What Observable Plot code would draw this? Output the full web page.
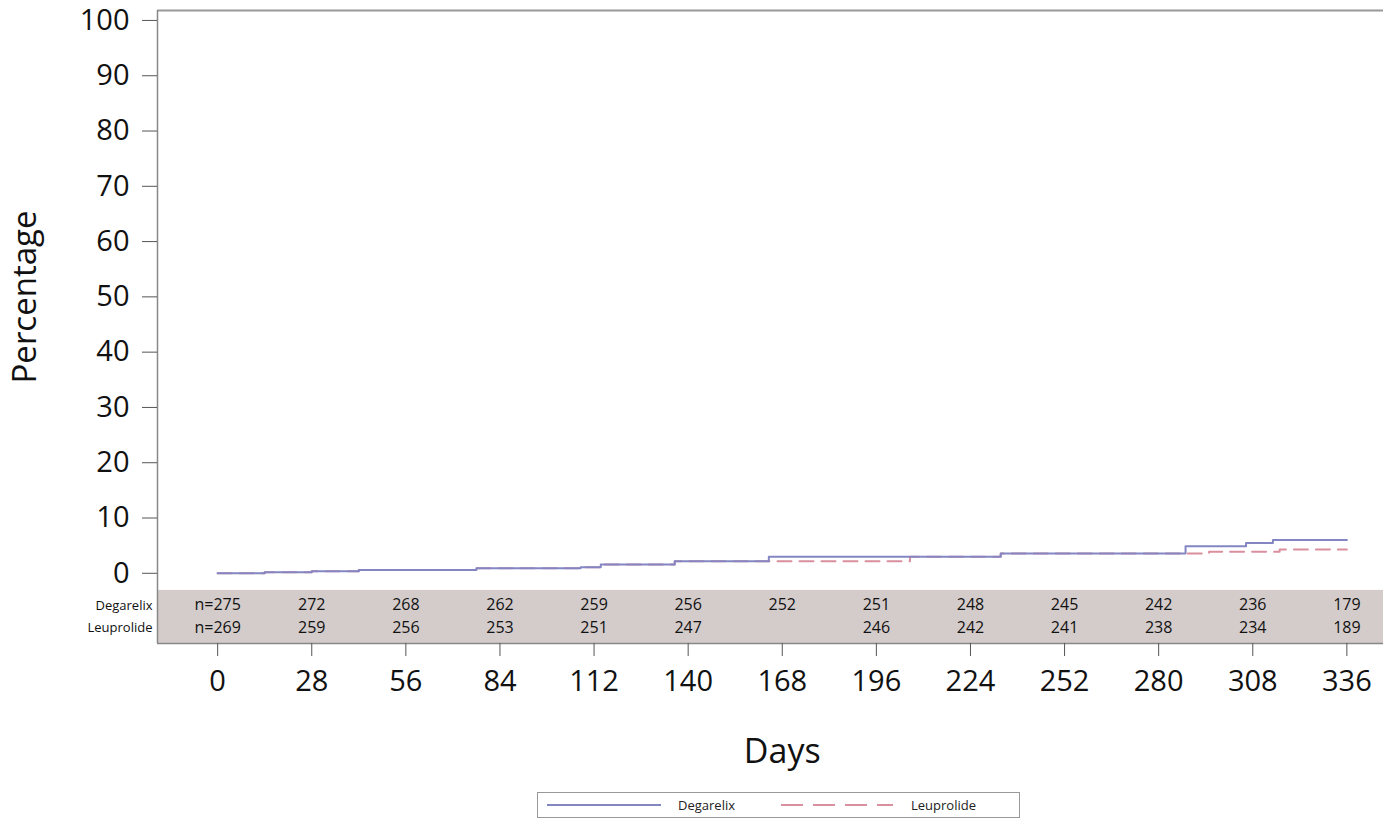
<!DOCTYPE html>
<html>
<head>
<meta charset="utf-8">
<script src="https://cdn.jsdelivr.net/npm/d3@7"></script>
<script src="https://cdn.jsdelivr.net/npm/@observablehq/plot@0.6"></script>
<style>
  body { margin: 0; background: #fff; font-family: "Open Sans", sans-serif; }
  #wrap { position: relative; width: 1383px; height: 820px; overflow: hidden; }
  #legend { position: absolute; left: 537px; top: 792px; width: 481px; height: 24px;
            border: 1px solid #999; font-size: 13px; color: #222; }
  #legend .it { position: absolute; top: 0; height: 24px; line-height: 24px; }
</style>
</head>
<body>
<div id="wrap"></div>
<script>
// ---- data ----
const tickDays = [0, 28, 56, 84, 112, 140, 168, 196, 224, 252, 280, 308, 336];
const degarelixAtRisk = ["n=275", "272", "268", "262", "259", "256", "252", "251", "248", "245", "242", "236", "179"];
const leuprolideAtRisk = ["n=269", "259", "256", "253", "251", "247", "", "246", "242", "241", "238", "234", "189"];

const degarelixDays = [0, 14, 28, 42, 77, 108, 114, 136, 164, 206, 233, 288, 306, 314, 336];
const degarelixPct  = [0, 0.2, 0.35, 0.6, 0.9, 1.1, 1.6, 2.2, 3.0, 3.0, 3.6, 4.9, 5.5, 6.0, 6.0];
const leuprolideDays = [0, 14, 28, 42, 77, 108, 114, 136, 206, 233, 295, 316, 336];
const leuprolidePct  = [0, 0.2, 0.35, 0.6, 0.9, 1.1, 1.6, 2.2, 3.0, 3.6, 3.9, 4.3, 4.3];

const yTicks = [0, 10, 20, 30, 40, 50, 60, 70, 80, 90, 100];
const rowNames = ["Degarelix", "Leuprolide"];

// ---- layout constants (in data units) ----
const xDomain = [-17.9, 346.9];
const yDomain = [-12.7, 101.8];
const bandTop = -3.1;
const rowY = [-5.8, -9.95];

const degColor = "#8486c4";
const leuColor = "#d98f9e";

const degData = degarelixDays.map((d, i) => ({day: d, pct: degarelixPct[i]}));
const leuData = leuprolideDays.map((d, i) => ({day: d, pct: leuprolidePct[i]}));
const riskRows = [];
tickDays.forEach((d, i) => {
  riskRows.push({day: d, y: rowY[0], t: degarelixAtRisk[i]});
  riskRows.push({day: d, y: rowY[1], t: leuprolideAtRisk[i]});
});

const chart = Plot.plot({
  width: 1383,
  height: 780,
  marginLeft: 157,
  marginRight: 0,
  marginTop: 10,
  marginBottom: 137,
  style: {fontFamily: "'Open Sans', sans-serif", color: "#111", background: "#fff"},
  x: {domain: xDomain},
  y: {domain: yDomain},
  marks: [
    Plot.rect([0], {x1: xDomain[0], x2: xDomain[1], y1: yDomain[0], y2: bandTop, fill: "#d4cccb"}),
    Plot.ruleY([yDomain[1]], {stroke: "#999", strokeWidth: 2}),
    Plot.ruleY([yDomain[0]], {stroke: "#888", strokeWidth: 1.5}),
    Plot.ruleX([xDomain[0]], {stroke: "#888", strokeWidth: 1.5}),
    Plot.axisY({ticks: yTicks, tickSize: 15, tickPadding: 13, fontSize: 29, label: null, stroke: "#555"}),
    Plot.axisX({ticks: tickDays, tickSize: 13, tickPadding: 14, fontSize: 29, label: null, stroke: "#555", tickFormat: d => d}),
    Plot.text(["Percentage"], {frameAnchor: "left", textAnchor: "middle", lineAnchor: "middle", rotate: -90, dx: -132, dy: -30, fontSize: 33}),
    Plot.text(["Days"], {x: [168], frameAnchor: "bottom", lineAnchor: "middle", dy: 109, fontSize: 34}),
    Plot.text(rowNames, {x: xDomain[0], y: rowY, text: d => d, textAnchor: "end", dx: -5, fontSize: 13, fontWeight: 500}),
    Plot.text(riskRows, {x: "day", y: "y", text: "t", fontSize: 16}),
    Plot.line(leuData, {x: "day", y: "pct", curve: "step-after", stroke: leuColor, strokeWidth: 2, strokeDasharray: "14,8"}),
    Plot.line(degData, {x: "day", y: "pct", curve: "step-after", stroke: degColor, strokeWidth: 2})
  ]
});

const wrap = document.getElementById("wrap");
wrap.appendChild(chart);

const legend = document.createElement("div");
legend.id = "legend";
legend.innerHTML = `
  <svg class="it" style="left:9px" width="114" height="24"><line x1="0" y1="12" x2="114" y2="12" stroke="${degColor}" stroke-width="2"/></svg>
  <span class="it" style="left:140px">Degarelix</span>
  <svg class="it" style="left:243px" width="112" height="24"><line x1="0" y1="12" x2="112" y2="12" stroke="${leuColor}" stroke-width="2" stroke-dasharray="22,10"/></svg>
  <span class="it" style="left:373px">Leuprolide</span>`;
wrap.appendChild(legend);
</script>
</body>
</html>
